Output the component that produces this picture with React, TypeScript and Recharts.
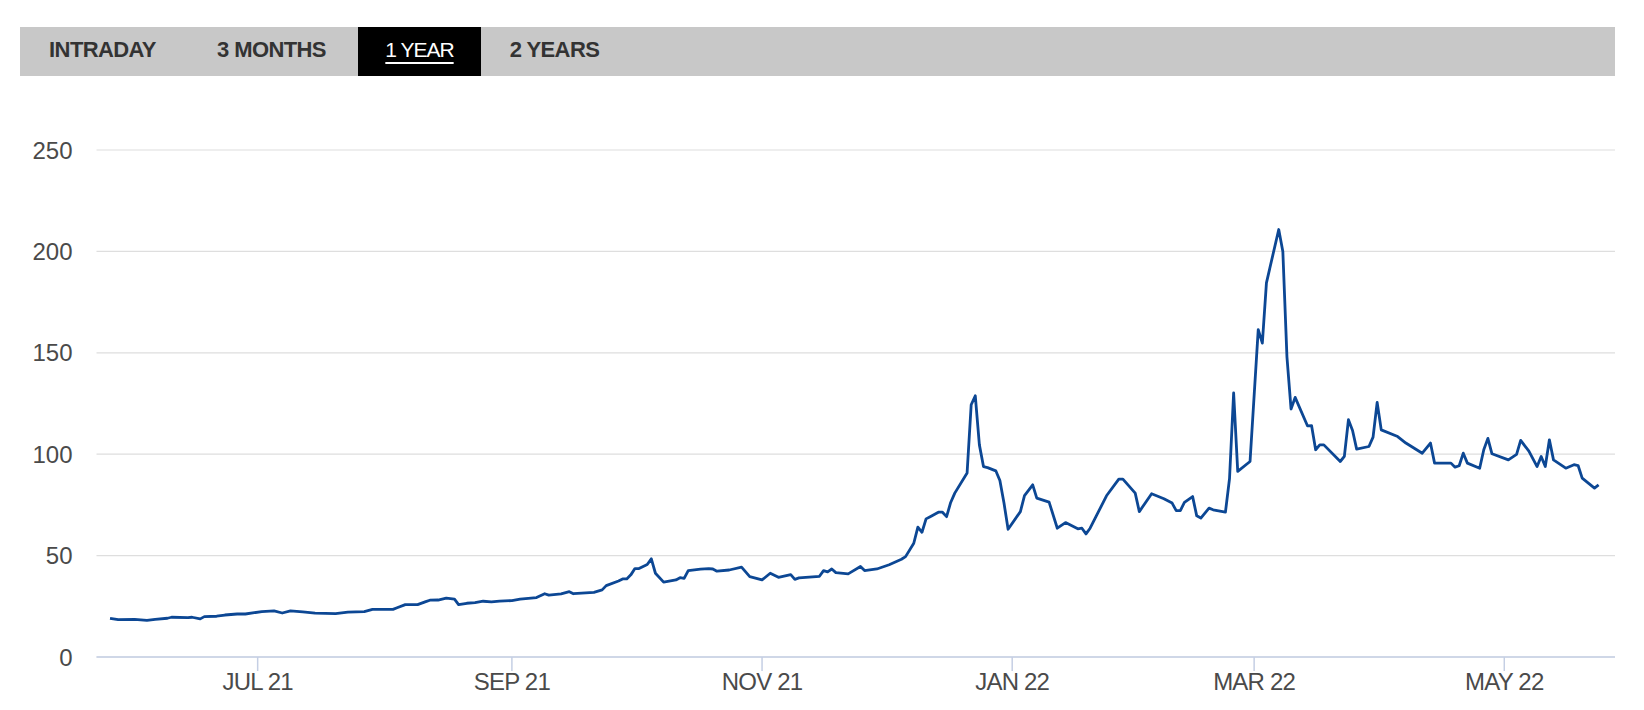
import { CartesianGrid, Line, LineChart, XAxis, YAxis } from 'recharts';

const tabLabels = ['INTRADAY', '3 MONTHS', '1 YEAR', '2 YEARS'];
const activeTab = '1 YEAR';

const yTicks = [0, 50, 100, 150, 200, 250];
const monthTicks = ['2021-07-01', '2021-09-01', '2021-11-01', '2022-01-01', '2022-03-01', '2022-05-01'];

const dates = [
  '2021-05-26', '2021-05-28', '2021-06-01', '2021-06-04', '2021-06-06', '2021-06-09', '2021-06-10', '2021-06-14',
  '2021-06-15', '2021-06-17', '2021-06-18', '2021-06-21', '2021-06-23', '2021-06-26', '2021-06-28', '2021-07-02',
  '2021-07-05', '2021-07-07', '2021-07-09', '2021-07-12', '2021-07-15', '2021-07-20', '2021-07-23', '2021-07-27',
  '2021-07-29', '2021-08-03', '2021-08-04', '2021-08-06', '2021-08-09', '2021-08-11', '2021-08-12', '2021-08-14',
  '2021-08-16', '2021-08-18', '2021-08-19', '2021-08-21', '2021-08-23', '2021-08-25', '2021-08-27', '2021-08-29',
  '2021-09-01', '2021-09-03', '2021-09-07', '2021-09-09', '2021-09-10', '2021-09-13', '2021-09-15', '2021-09-16',
  '2021-09-21', '2021-09-23', '2021-09-24', '2021-09-27', '2021-09-28', '2021-09-29', '2021-09-30', '2021-10-01',
  '2021-10-02', '2021-10-04', '2021-10-05', '2021-10-06', '2021-10-08', '2021-10-11', '2021-10-12', '2021-10-13',
  '2021-10-14', '2021-10-17', '2021-10-19', '2021-10-20', '2021-10-21', '2021-10-24', '2021-10-27', '2021-10-29',
  '2021-11-01', '2021-11-03', '2021-11-05', '2021-11-08', '2021-11-09', '2021-11-10', '2021-11-15', '2021-11-16',
  '2021-11-17', '2021-11-18', '2021-11-19', '2021-11-22', '2021-11-25', '2021-11-26', '2021-11-29', '2021-12-02',
  '2021-12-05', '2021-12-06', '2021-12-08', '2021-12-09', '2021-12-10', '2021-12-11', '2021-12-12', '2021-12-14',
  '2021-12-15', '2021-12-16', '2021-12-17', '2021-12-18', '2021-12-21', '2021-12-22', '2021-12-23', '2021-12-24',
  '2021-12-25', '2021-12-26', '2021-12-28', '2021-12-29', '2021-12-30', '2021-12-31', '2022-01-03', '2022-01-04',
  '2022-01-06', '2022-01-07', '2022-01-10', '2022-01-12', '2022-01-14', '2022-01-17', '2022-01-18', '2022-01-19',
  '2022-01-20', '2022-01-24', '2022-01-27', '2022-01-28', '2022-01-31', '2022-02-01', '2022-02-04', '2022-02-07',
  '2022-02-09', '2022-02-10', '2022-02-11', '2022-02-12', '2022-02-14', '2022-02-15', '2022-02-16', '2022-02-18',
  '2022-02-19', '2022-02-22', '2022-02-23', '2022-02-24', '2022-02-25', '2022-02-28', '2022-03-02', '2022-03-03',
  '2022-03-04', '2022-03-07', '2022-03-08', '2022-03-09', '2022-03-10', '2022-03-11', '2022-03-14', '2022-03-15',
  '2022-03-16', '2022-03-17', '2022-03-18', '2022-03-22', '2022-03-23', '2022-03-24', '2022-03-25', '2022-03-26',
  '2022-03-29', '2022-03-30', '2022-03-31', '2022-04-01', '2022-04-05', '2022-04-07', '2022-04-11', '2022-04-13',
  '2022-04-14', '2022-04-18', '2022-04-19', '2022-04-20', '2022-04-21', '2022-04-22', '2022-04-25', '2022-04-26',
  '2022-04-27', '2022-04-28', '2022-05-02', '2022-05-04', '2022-05-05', '2022-05-07', '2022-05-09', '2022-05-10',
  '2022-05-11', '2022-05-12', '2022-05-13', '2022-05-16', '2022-05-18', '2022-05-19', '2022-05-20', '2022-05-23',
  '2022-05-24',
];

const prices = [
  19.1, 18.4, 18.6, 18.1, 18.6, 19.1, 19.6, 19.4,
  19.6, 18.8, 19.9, 20.1, 20.7, 21.2, 21.2, 22.4,
  22.7, 21.7, 22.7, 22.2, 21.6, 21.4, 22.1, 22.4,
  23.5, 23.5, 24.3, 25.8, 25.8, 27.3, 28.0, 28.1,
  29.0, 28.5, 25.8, 26.5, 26.8, 27.5, 27.2, 27.6,
  27.8, 28.5, 29.3, 31.2, 30.5, 31.1, 32.2, 31.2,
  31.9, 33.1, 35.2, 37.5, 38.5, 38.5, 40.5, 43.6,
  43.6, 45.6, 48.4, 41.3, 36.9, 38.0, 39.1, 38.8,
  42.6, 43.3, 43.6, 43.4, 42.3, 42.9, 44.3, 39.6,
  38.0, 41.3, 39.3, 40.6, 38.3, 39.0, 39.8, 42.6,
  42.0, 43.4, 41.6, 41.0, 44.6, 42.6, 43.4, 45.5,
  48.2, 49.5, 56.1, 64.0, 61.5, 68.1, 69.2, 71.4,
  71.4, 69.2, 76.2, 80.8, 90.7, 124.4, 128.8, 104.6,
  93.9, 93.4, 91.8, 87.0, 75.9, 63.0, 71.7, 79.6,
  84.9, 78.3, 76.4, 63.5, 66.3, 63.2, 63.5, 60.7,
  63.5, 79.5, 87.7, 87.7, 80.8, 71.7, 80.5, 78.0,
  75.9, 72.2, 72.2, 76.2, 79.1, 69.6, 68.5, 73.4,
  72.6, 71.4, 88.0, 130.2, 91.5, 96.4, 161.4, 154.8,
  184.5, 210.8, 200.0, 148.0, 122.3, 128.0, 114.0, 114.1,
  102.2, 104.6, 104.6, 96.4, 98.9, 117.0, 111.7, 102.5,
  103.8, 108.4, 125.5, 112.0, 108.7, 105.5, 100.5, 105.5,
  95.6, 95.6, 93.6, 94.3, 100.5, 95.6, 93.1, 102.2,
  107.8, 100.2, 97.2, 99.9, 106.8, 101.5, 93.9, 98.9,
  93.9, 107.1, 97.2, 93.1, 94.8, 94.4, 88.2, 83.3,
  84.9,
];

const DAY = 86400000;
const MONTHS = ['JAN', 'FEB', 'MAR', 'APR', 'MAY', 'JUN', 'JUL', 'AUG', 'SEP', 'OCT', 'NOV', 'DEC'];
const toTime = (s: string) => Date.parse(`${s}T00:00:00Z`);

const chartData = dates.map((d, i) => ({ t: toTime(d), price: prices[i] }));
const xTicks = monthTicks.map(toTime);
const xDomain = [chartData[0].t - 3.3 * DAY, chartData[chartData.length - 1].t + 4 * DAY];

function formatMonth(value: number) {
  const d = new Date(value);
  return `${MONTHS[d.getUTCMonth()]} ${String(d.getUTCFullYear()).slice(2)}`;
}

const FONT = '"Liberation Sans", Arial, Helvetica, sans-serif';
const tabWidths = [165, 173, 123, 147];

export default function App() {
  return (
    <div style={{ position: 'absolute', left: 0, top: 0, width: 1644, height: 710, background: '#fff', fontFamily: FONT }}>
      <div
        style={{
          position: 'absolute',
          left: 20,
          top: 27,
          width: 1595,
          height: 49,
          background: '#c8c8c8',
          display: 'flex',
        }}
      >
        {tabLabels.map((label, i) => {
          const active = label === activeTab;
          return (
            <div
              key={label}
              style={{
                width: tabWidths[i],
                height: 49,
                lineHeight: '46px',
                textAlign: 'center',
                background: active ? '#000' : 'transparent',
                color: active ? '#fff' : '#333',
                fontWeight: active ? 400 : 700,
                fontSize: active ? 21 : 22,
                letterSpacing: active ? -1 : -0.6,
                textDecoration: active ? 'underline' : 'none',
                textUnderlineOffset: 5,
              }}
            >
              {label}
            </div>
          );
        })}
      </div>
      <div style={{ position: 'absolute', left: 0, top: 0 }}>
        <LineChart width={1644} height={710} data={chartData} margin={{ top: 150, right: 29, bottom: 13, left: 0 }}>
          <CartesianGrid vertical={false} stroke="#dedede" strokeWidth={1.2} />
          <XAxis
            dataKey="t"
            type="number"
            scale="time"
            domain={xDomain}
            ticks={xTicks}
            tickFormatter={formatMonth}
            height={40}
            stroke="#c5cfe4"
            axisLine={{ stroke: '#c5cfe4', strokeWidth: 1.5 }}
            tickLine={{ stroke: '#c5cfe4', strokeWidth: 1.5 }}
            tickSize={14}
            tickMargin={2}
            tick={{ fontSize: 24, fill: '#4a4a4a', fontFamily: FONT, letterSpacing: -0.8 }}
            allowDataOverflow
          />
          <YAxis
            type="number"
            domain={[0, 250]}
            ticks={yTicks}
            width={96.5}
            axisLine={false}
            tickLine={false}
            tickSize={0}
            tickMargin={24}
            tick={{ fontSize: 24, fill: '#4a4a4a', fontFamily: FONT }}
          />
          <Line
            type="linear"
            dataKey="price"
            stroke="#0c4794"
            strokeWidth={2.8}
            dot={false}
            isAnimationActive={false}
            strokeLinejoin="round"
          />
        </LineChart>
      </div>
    </div>
  );
}
